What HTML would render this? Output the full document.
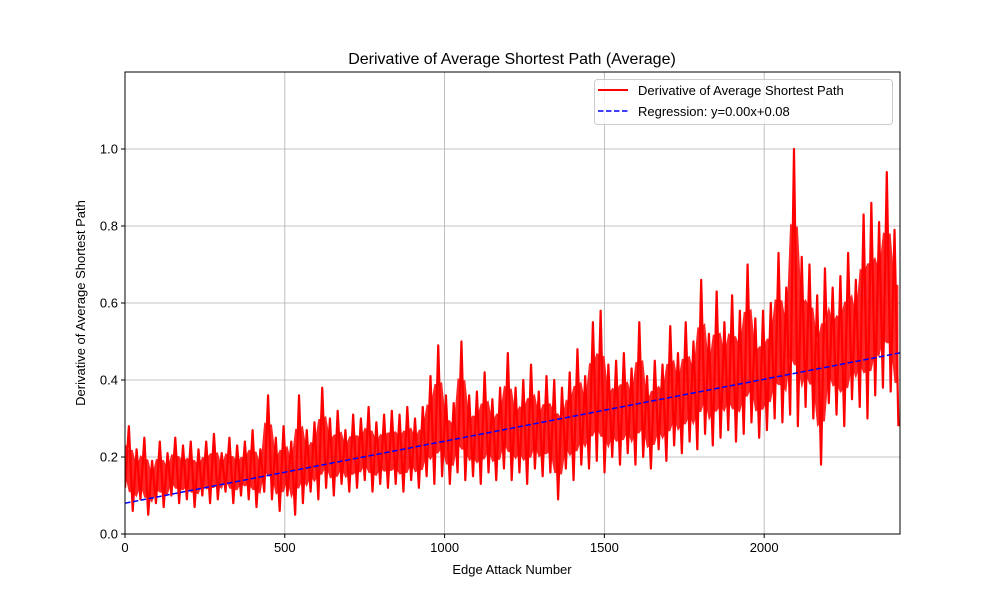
<!DOCTYPE html>
<html><head><meta charset="utf-8"><style>
html,body{margin:0;padding:0;background:#fff;}
svg{display:block;font-family:"Liberation Sans","DejaVu Sans",sans-serif;}
</style></head><body>
<div style="position:relative;width:1000px;height:600px;">
<svg id="chart" width="1000" height="600" style="position:absolute;left:0;top:0;"></svg>
<svg width="1000" height="600" style="position:absolute;left:0;top:0;pointer-events:none;">
<text x="512" y="64" text-anchor="middle" font-size="16">Derivative of Average Shortest Path (Average)</text>
<text x="512" y="574" text-anchor="middle" font-size="13">Edge Attack Number</text>
<text transform="translate(85,303) rotate(-90)" text-anchor="middle" font-size="13">Derivative of Average Shortest Path</text>
<g>
<rect x="594.5" y="79.5" width="298" height="45" rx="3" fill="#fff" fill-opacity="0.8" stroke="#ccc"/>
<line x1="598" x2="628" y1="90" y2="90" stroke="#ff0000" stroke-width="2"/>
<text x="638" y="95" font-size="13">Derivative of Average Shortest Path</text>
<line x1="598" x2="628" y1="111" y2="111" stroke="#0000ff" stroke-width="1.5" stroke-dasharray="5.5,2.5"/>
<text x="638" y="116" font-size="13">Regression: y=0.00x+0.08</text>
</g>
</svg>
</div>
<script>
const xTicks=[0,500,1000,1500,2000];
const yTicks=[0.0,0.2,0.4,0.6,0.8,1.0];
const xStep=12.1;
const series=[0.12,0.28,0.06,0.22,0.09,0.25,0.05,0.19,0.08,0.24,
0.07,0.21,0.10,0.25,0.08,0.23,0.09,0.24,0.07,0.22,
0.10,0.24,0.08,0.26,0.09,0.21,0.11,0.25,0.08,0.23,
0.10,0.24,0.09,0.27,0.07,0.22,0.11,0.36,0.09,0.25,
0.06,0.28,0.10,0.24,0.05,0.36,0.08,0.27,0.11,0.29,
0.09,0.38,0.12,0.30,0.10,0.32,0.13,0.27,0.11,0.31,
0.12,0.30,0.14,0.33,0.11,0.29,0.13,0.31,0.12,0.32,
0.13,0.31,0.11,0.33,0.14,0.30,0.12,0.33,0.15,0.41,
0.13,0.49,0.15,0.36,0.13,0.34,0.16,0.50,0.14,0.36,
0.15,0.37,0.13,0.42,0.16,0.35,0.14,0.38,0.17,0.47,
0.14,0.38,0.16,0.40,0.13,0.44,0.17,0.37,0.15,0.41,
0.16,0.40,0.09,0.38,0.17,0.42,0.14,0.48,0.18,0.41,
0.17,0.55,0.19,0.58,0.16,0.44,0.20,0.45,0.18,0.47,
0.21,0.43,0.18,0.55,0.20,0.41,0.17,0.45,0.22,0.44,
0.19,0.54,0.23,0.47,0.21,0.55,0.24,0.50,0.22,0.66,
0.26,0.52,0.23,0.63,0.25,0.55,0.27,0.62,0.24,0.58,
0.26,0.70,0.29,0.56,0.25,0.58,0.27,0.60,0.30,0.73,
0.29,0.64,0.31,1.00,0.28,0.72,0.33,0.70,0.30,0.62,
0.18,0.69,0.34,0.64,0.31,0.67,0.28,0.73,0.35,0.66,
0.33,0.83,0.30,0.86,0.36,0.81,0.38,0.94,0.37,0.79,0.28];
const regSlope=0.000161;
const regIntercept=0.08;

const L=125,R=900,T=72,B=534,XMAX=2425,YMAX=1.2;
const sx=v=>L+(v/XMAX)*(R-L);
const sy=v=>B-(v/YMAX)*(B-T);
const NS="http://www.w3.org/2000/svg";
const svg=document.getElementById('chart');
function mk(tag,attrs,parent){const e=document.createElementNS(NS,tag);for(const k in attrs)e.setAttribute(k,attrs[k]);(parent||svg).appendChild(e);return e;}

xTicks.forEach(t=>{
 const g=mk('line',{x1:sx(t),x2:sx(t),y1:T,y2:B,stroke:'#b0b0b0','stroke-width':0.8});
 
 
});
yTicks.forEach(t=>{
 const g=mk('line',{x1:L,x2:R,y1:sy(t),y2:sy(t),stroke:'#b0b0b0','stroke-width':0.8});
 
 
});

const cp=mk('clipPath',{id:'clip'});mk('rect',{x:L,y:T,width:R-L,height:B-T},cp);

// dense noise band: between smoothed upper and lower envelopes of the series
const hi=[],lo=[];
series.forEach((v,i)=>{
 const a=series[Math.max(0,i-1)],b=series[Math.min(series.length-1,i+1)];
 const mx=Math.max(a,v,b),mn=Math.min(a,v,b);
 hi.push(mn+(mx-mn)*0.72);lo.push(mn+(mx-mn)*0.22);
});
let bd='';
hi.forEach((v,i)=>{bd+=(i?'L':'M')+sx(i*xStep).toFixed(2)+','+sy(v).toFixed(2);});
for(let i=lo.length-1;i>=0;i--)bd+='L'+sx(i*xStep).toFixed(2)+','+sy(lo[i]).toFixed(2);
bd+='Z';
const band=mk('path',{d:bd,fill:'#ff0000','fill-opacity':0.85,stroke:'none','clip-path':'url(#clip)'});



let d='';
series.forEach((v,i)=>{d+=(i?'L':'M')+sx(i*xStep).toFixed(2)+','+sy(v).toFixed(2);});
const line=mk('path',{d:d,fill:'none',stroke:'#ff0000','stroke-width':2.2,'stroke-linejoin':'round','clip-path':'url(#clip)'});



const reg=mk('line',{x1:sx(0),y1:sy(regIntercept),x2:sx(XMAX),y2:sy(regIntercept+regSlope*XMAX),stroke:'#0000ff','stroke-width':1.5,'stroke-dasharray':'5.5,2.5'});



const fr=mk('rect',{x:L,y:T,width:R-L,height:B-T,fill:'none',stroke:'#000','stroke-width':1});



xTicks.forEach(t=>{
 mk('line',{x1:sx(t),x2:sx(t),y1:B,y2:B+4,stroke:'#000'});
 const tx=mk('text',{x:sx(t),y:B+18,'text-anchor':'middle','font-size':13});
 tx.textContent=t;
 
 
});
yTicks.forEach(t=>{
 mk('line',{x1:L-4,x2:L,y1:sy(t),y2:sy(t),stroke:'#000'});
 const tx=mk('text',{x:L-7,y:sy(t)+4.5,'text-anchor':'end','font-size':13});
 tx.textContent=t.toFixed(1);
 
 
});
</script>
</body></html>
